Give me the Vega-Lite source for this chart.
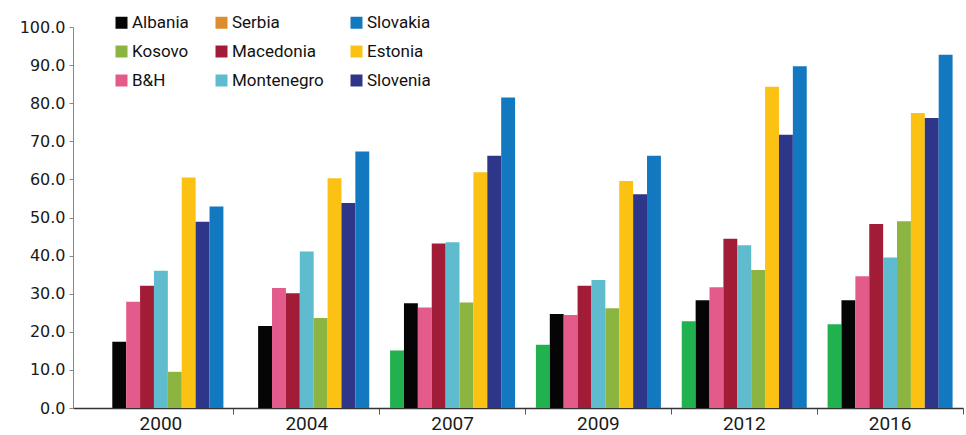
{
  "$schema": "https://vega.github.io/schema/vega-lite/v6.json",
  "width": 890,
  "height": 381,
  "autosize": {"type": "none"},
  "padding": {"left": 73, "top": 27, "right": 3, "bottom": 27},
  "background": "white",
  "config": {"view": {"stroke": null}, "axis": {"grid": false}},
  "data": {"values": [
    {"year": "2000", "country": "Albania", "value": 17.4},
    {"year": "2000", "country": "B&H", "value": 27.9},
    {"year": "2000", "country": "Macedonia", "value": 32.1},
    {"year": "2000", "country": "Montenegro", "value": 36.0},
    {"year": "2000", "country": "Kosovo", "value": 9.5},
    {"year": "2000", "country": "Estonia", "value": 60.5},
    {"year": "2000", "country": "Slovenia", "value": 48.9},
    {"year": "2000", "country": "Slovakia", "value": 52.9},
    {"year": "2004", "country": "Albania", "value": 21.5},
    {"year": "2004", "country": "B&H", "value": 31.5},
    {"year": "2004", "country": "Macedonia", "value": 30.1},
    {"year": "2004", "country": "Montenegro", "value": 41.1},
    {"year": "2004", "country": "Kosovo", "value": 23.6},
    {"year": "2004", "country": "Estonia", "value": 60.3},
    {"year": "2004", "country": "Slovenia", "value": 53.8},
    {"year": "2004", "country": "Slovakia", "value": 67.3},
    {"year": "2007", "country": "Serbia", "value": 15.1},
    {"year": "2007", "country": "Albania", "value": 27.5},
    {"year": "2007", "country": "B&H", "value": 26.4},
    {"year": "2007", "country": "Macedonia", "value": 43.2},
    {"year": "2007", "country": "Montenegro", "value": 43.5},
    {"year": "2007", "country": "Kosovo", "value": 27.7},
    {"year": "2007", "country": "Estonia", "value": 61.9},
    {"year": "2007", "country": "Slovenia", "value": 66.2},
    {"year": "2007", "country": "Slovakia", "value": 81.5},
    {"year": "2009", "country": "Serbia", "value": 16.6},
    {"year": "2009", "country": "Albania", "value": 24.7},
    {"year": "2009", "country": "B&H", "value": 24.4},
    {"year": "2009", "country": "Macedonia", "value": 32.1},
    {"year": "2009", "country": "Montenegro", "value": 33.6},
    {"year": "2009", "country": "Kosovo", "value": 26.2},
    {"year": "2009", "country": "Estonia", "value": 59.6},
    {"year": "2009", "country": "Slovenia", "value": 56.1},
    {"year": "2009", "country": "Slovakia", "value": 66.2},
    {"year": "2012", "country": "Serbia", "value": 22.8},
    {"year": "2012", "country": "Albania", "value": 28.3},
    {"year": "2012", "country": "B&H", "value": 31.7},
    {"year": "2012", "country": "Macedonia", "value": 44.4},
    {"year": "2012", "country": "Montenegro", "value": 42.7},
    {"year": "2012", "country": "Kosovo", "value": 36.2},
    {"year": "2012", "country": "Estonia", "value": 84.3},
    {"year": "2012", "country": "Slovenia", "value": 71.7},
    {"year": "2012", "country": "Slovakia", "value": 89.7},
    {"year": "2016", "country": "Serbia", "value": 22.0},
    {"year": "2016", "country": "Albania", "value": 28.3},
    {"year": "2016", "country": "B&H", "value": 34.6},
    {"year": "2016", "country": "Macedonia", "value": 48.3},
    {"year": "2016", "country": "Montenegro", "value": 39.5},
    {"year": "2016", "country": "Kosovo", "value": 49.0},
    {"year": "2016", "country": "Estonia", "value": 77.4},
    {"year": "2016", "country": "Slovenia", "value": 76.1},
    {"year": "2016", "country": "Slovakia", "value": 92.7}
  ]},
  "layer": [
    {
      "mark": {"type": "bar"},
      "encoding": {
        "x": {
          "field": "year", "type": "nominal",
          "scale": {"paddingInner": 0, "paddingOuter": 0.0514, "align": 1},
          "axis": {
            "title": null, "labelAngle": 0, "labelFont": "Roboto", "labelFontSize": 19,
            "labelColor": "#1a1a1a", "tickSize": 6, "tickColor": "#555555", "domainColor": "#333333",
            "domainWidth": 1.5, "bandPosition": 1, "labelPadding": 0
          }
        },
        "xOffset": {
          "field": "country", "type": "nominal",
          "scale": {"domain": ["Serbia", "Albania", "B&H", "Macedonia", "Montenegro", "Kosovo", "Estonia", "Slovenia", "Slovakia"], "paddingInner": 0, "paddingOuter": 0.75}
        },
        "y": {
          "field": "value", "type": "quantitative",
          "scale": {"domain": [0, 100], "nice": false},
          "axis": {
            "title": null, "format": ".1f", "values": [0,10,20,30,40,50,60,70,80,90,100],
            "labelOverlap": false,
            "labelFont": "DejaVu Sans", "labelFontSize": 16, "labelColor": "#1a1a1a",
            "tickSize": 4, "tickColor": "#888888", "domainColor": "#888888", "labelPadding": 4
          }
        },
        "color": {
          "field": "country", "type": "nominal",
          "scale": {
            "domain": ["Serbia", "Albania", "B&H", "Macedonia", "Montenegro", "Kosovo", "Estonia", "Slovenia", "Slovakia"],
            "range": ["#22b14f", "#050505", "#e35b8b", "#a31c37", "#5fbccf", "#8bb440", "#fcc213", "#2e368a", "#1278bf"]
          },
          "legend": null
        }
      }
    },
    {
      "mark": {"type": "bar"},
      "encoding": {
        "y": {
          "datum": 0, "type": "quantitative",
          "axis": {
            "title": null, "format": ".1f", "values": [0,10,20,30,40,50,60,70,80,90,100],
            "labelOverlap": false,
            "labelFont": "DejaVu Sans", "labelFontSize": 16, "labelColor": "#1a1a1a",
            "tickSize": 4, "tickColor": "#888888", "domainColor": "#888888", "labelPadding": 4
          }
        },
        "fill": {
          "field": "country", "type": "nominal",
          "scale": {
            "domain": ["Albania", "Kosovo", "B&H", "Serbia", "Macedonia", "Montenegro", "Slovakia", "Estonia", "Slovenia"],
            "range": ["#050505", "#8bb440", "#e35b8b", "#dc8e2e", "#a31c37", "#5fbccf", "#1278bf", "#fcc213", "#2e368a"]
          },
          "legend": {
            "title": null, "orient": "none", "legendX": 40, "legendY": -13, "columns": 3,
            "columnPadding": 24, "rowPadding": 11, "symbolType": "square", "symbolSize": 144,
            "symbolStrokeWidth": 0, "labelFont": "Roboto", "labelFontSize": 17, "labelColor": "#111111",
            "labelOffset": 2, "padding": 0
          }
        }
      }
    }
  ]
}
